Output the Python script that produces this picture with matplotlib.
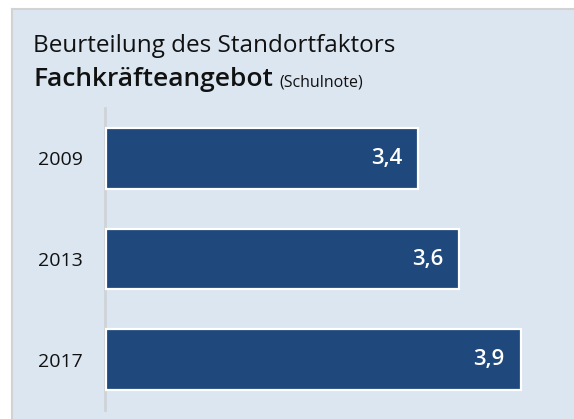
import matplotlib.pyplot as plt
from matplotlib.patches import Rectangle

# data
years = ["2009", "2013", "2017"]
values = [3.4, 3.6, 3.9]
labels = ["3,4", "3,6", "3,9"]

plt.rcParams['font.family'] = ['Open Sans', 'DejaVu Sans']

W, H = 574, 419
fig = plt.figure(figsize=(W / 100, H / 100), dpi=100)
fig.patch.set_facecolor("white")

# light blue panel with grey top/left border
panel = Rectangle((12 / W, 0), 1 - 12 / W, (H - 9) / H, transform=fig.transFigure,
                  facecolor="#dce6f1", edgecolor="none", zorder=-2)
fig.add_artist(panel)
fig.add_artist(plt.Line2D([12 / W, 12 / W], [0, (H - 9) / H], color="#d2d2d2", lw=1.5, zorder=-1))
fig.add_artist(plt.Line2D([12 / W, 1], [(H - 9) / H, (H - 9) / H], color="#d2d2d2", lw=1.5, zorder=-1))

# title
fig.text(33 / W, (H - 46) / H, "Beurteilung des Standortfaktors", fontsize=17.5,
         va="center", ha="left", color="#111111")
t2 = fig.text(33 / W, (H - 79) / H, "Fachkräfteangebot", fontsize=19, fontweight="semibold",
              va="center", ha="left", color="#111111")

# axes
x0, x1 = 105, 560
ytop, ybot = 108, 410
ax = fig.add_axes([x0 / W, (H - ybot) / H, (x1 - x0) / W, (ybot - ytop) / H])
ax.set_facecolor("none")

# scale: 3.4 -> 419 px, about 205 px per unit
ppu = 205.0
left_val = 3.4 - (419 - 106) / ppu
right_val = left_val + (x1 - x0) / ppu
ax.set_xlim(left_val - 1 / ppu, right_val)
ax.set_ylim(2.5, -0.5)

pos = list(range(len(years)))
ax.barh(pos, [v - left_val for v in values], left=left_val, height=0.6,
        color="#1f497c", edgecolor="white", linewidth=1.6, zorder=3)

for p, v, lab in zip(pos, values, labels):
    ax.text(v - 16 / ppu, p, lab, color="white", fontsize=16, fontweight="semibold",
            ha="right", va="center", zorder=4)

ax.set_yticks(pos)
ax.set_yticklabels(years, fontsize=14, color="#111111")
ax.tick_params(axis="y", length=0, pad=16)
ax.set_xticks([])
for s in ["top", "right", "bottom"]:
    ax.spines[s].set_visible(False)
ax.spines["left"].set_color("#cfd3d8")
ax.spines["left"].set_linewidth(2)

ax.annotate("(Schulnote)", xy=(1, 0), xycoords=t2, xytext=(5, 1), textcoords="offset points",
            fontsize=11.5, ha="left", va="bottom", color="#111111", annotation_clip=False)

fig.savefig("out.png", dpi=100)
